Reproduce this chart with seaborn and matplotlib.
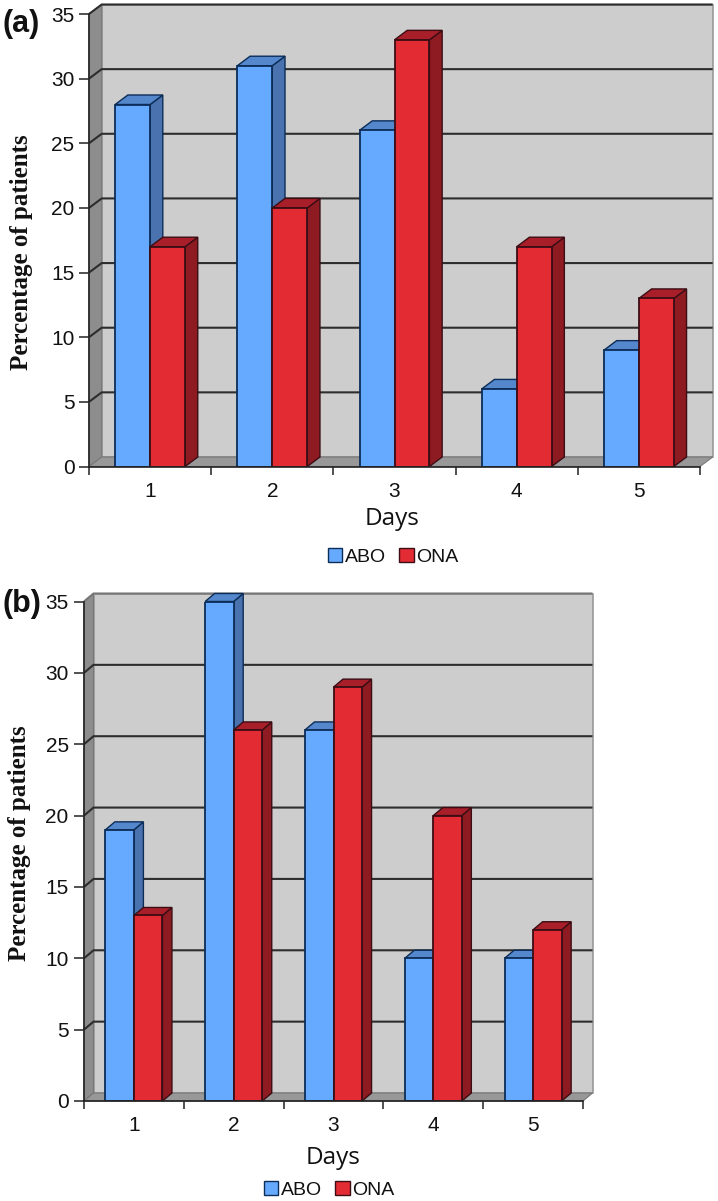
import matplotlib
matplotlib.use("Agg")
import matplotlib.pyplot as plt
from matplotlib.ticker import FixedLocator
from matplotlib.patches import Patch
import pandas as pd
import seaborn as sns

days = ["1", "2", "3", "4", "5"]
abo_a = [28, 31, 26, 6, 9]
ona_a = [17, 20, 33, 17, 13]
abo_b = [19, 35, 26, 10, 10]
ona_b = [13, 26, 29, 20, 12]
groups = ["ABO", "ONA"]
yticks = [0, 5, 10, 15, 20, 25, 30, 35]

W, H = 718, 1201
FRONT = {"ABO": "#66aaff", "ONA": "#e32b33"}
SIDE = {"ABO": "#4a72ae", "ONA": "#8f1b22"}
TOP = {"ABO": "#5487cc", "ONA": "#a81f2a"}
EDGE = {"ABO": "#0c2d58", "ONA": "#3c0d14"}

sns.set_theme(style="white")
plt.rcParams["font.family"] = ["Liberation Sans", "DejaVu Sans"]
fig = plt.figure(figsize=(W / 100, H / 100), dpi=100)


def panel(abo, ona, box, depth, top_line, ypad, ylabel_xy, days_xy, legend_xy, tag, tag_xy):
    left, right, top, bottom = box
    ax = fig.add_axes([left / W, 1 - bottom / H, (right - left) / W, (bottom - top) / H])
    df = pd.DataFrame({
        "Days": days * 2,
        "Group": ["ABO"] * 5 + ["ONA"] * 5,
        "Percent": list(abo) + list(ona),
    })
    sns.barplot(data=df, x="Days", y="Percent", hue="Group", hue_order=groups,
                palette=FRONT, width=0.572, gap=0, legend=False, ax=ax,
                linewidth=1.3, errorbar=None)
    ax.set_xlim(-0.5, 4.5)
    ax.set_ylim(0, 35)
    # depth offsets in data units
    dx = depth[0] * 5 / (right - left)
    dy = depth[1] * 35 / (bottom - top)
    x0, x1 = -0.5, 4.5

    # walls and floor
    ax.fill([x0 + dx, x1 + dx, x1 + dx, x0 + dx], [dy, dy, 35 + dy, 35 + dy],
            fc="#cdcdcd", ec="#999999", lw=1.2, clip_on=False, zorder=0.5)
    ax.fill([x0, x0 + dx, x0 + dx, x0], [0, dy, 35 + dy, 35],
            fc="#8d8d8d", ec="#777777", lw=0.8, clip_on=False, zorder=0.6)
    ax.fill([x0, x1, x1 + dx, x0 + dx], [0, 0, dy, dy],
            fc="#989898", ec="#777777", lw=0.8, clip_on=False, zorder=0.7)
    for v in yticks[1:]:
        ax.plot([x0, x0 + dx, x1 + dx], [v, v + dy, v + dy],
                color=top_line if v == yticks[-1] else "#2d2d2d",
                lw=1.5, clip_on=False, zorder=0.8, solid_capstyle="butt")

    # bars with side and top faces
    for i, (g, cont) in enumerate(zip(groups, ax.containers)):
        for bar in cont:
            xa, w, h = bar.get_x(), bar.get_width(), bar.get_height()
            z = 3 + 2 * i
            bar.set_facecolor(FRONT[g])
            bar.set_edgecolor(EDGE[g])
            bar.set_zorder(z + 1)
            ax.fill([xa + w, xa + w + dx, xa + w + dx, xa + w], [0, dy, h + dy, h],
                    fc=SIDE[g], ec=EDGE[g], lw=1.0, zorder=z, clip_on=False)
            ax.fill([xa, xa + w, xa + w + dx, xa + dx], [h, h, h + dy, h + dy],
                    fc=TOP[g], ec=EDGE[g], lw=1.0, zorder=z, clip_on=False)

    # axes furniture
    sns.despine(ax=ax)
    for s in ("left", "bottom"):
        ax.spines[s].set_color("#222222")
        ax.spines[s].set_linewidth(1.2)
        ax.spines[s].set_zorder(8)
    ax.set_yticks(yticks)
    ax.set_xlabel("")
    ax.set_ylabel("")
    ax.xaxis.set_minor_locator(FixedLocator([x0 + k for k in range(6)]))
    ax.tick_params(axis="x", which="major", length=0, pad=11, labelsize=15, labelcolor="#111111")
    ax.tick_params(axis="x", which="minor", bottom=True, length=6, width=1.1, color="#222222")
    ax.tick_params(axis="y", left=True, length=7, width=1.1, color="#222222", pad=ypad,
                   labelsize=15, labelcolor="#111111")

    fig.text(ylabel_xy[0] / W, 1 - ylabel_xy[1] / H, "Percentage of patients", rotation=90,
             family="Liberation Serif", weight="bold", fontsize=18, color="#111111",
             ha="center", va="center")
    fig.text(days_xy[0] / W, 1 - days_xy[1] / H, "Days", family="Open Sans", fontsize=17.5,
             color="#111111", ha="center", va="center")
    fig.text(tag_xy[0] / W, 1 - tag_xy[1] / H, tag, weight="bold", fontsize=22,
             color="#111111", ha="left", va="center")
    handles = [Patch(fc=FRONT[g], ec=EDGE[g], lw=1.0) for g in groups]
    fig.legend(handles, groups, loc="center", ncol=2, frameon=False, fontsize=14,
               bbox_to_anchor=(legend_xy[0] / W, 1 - legend_xy[1] / H),
               handlelength=0.75, handleheight=0.75, handletextpad=0.12, columnspacing=0.7,
               labelcolor="#111111")


panel(abo_a, ona_a, (89, 700, 14, 466.5), (12.7, 9.5), "#2d2d2d", 3.5, (22, 252),
      (392, 519), (393, 557), "(a)", (3, 24))
panel(abo_b, ona_b, (84, 583, 601.5, 1101), (9.5, 8), "#777777", 4, (20, 843),
      (333, 1158), (329, 1190), "(b)", (2, 604))

fig.savefig("out.png", dpi=100)
